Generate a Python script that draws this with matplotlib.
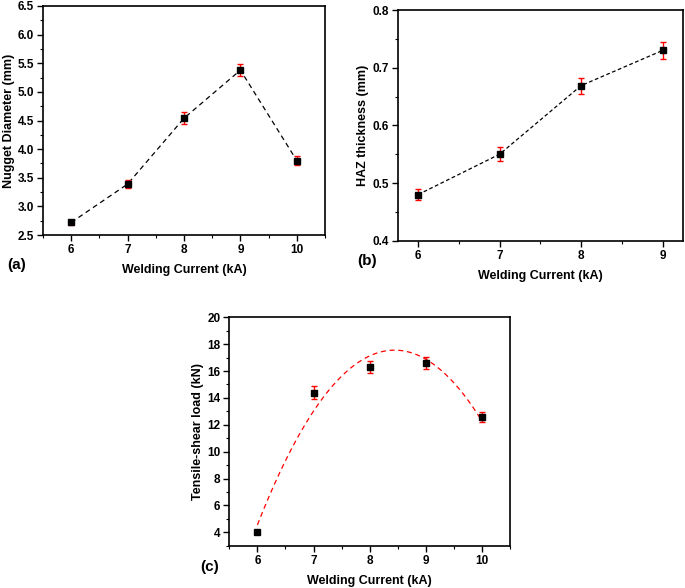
import matplotlib.pyplot as plt
import numpy as np
from matplotlib.ticker import MultipleLocator

plt.rcParams['font.family'] = ['Liberation Sans', 'DejaVu Sans']
plt.rcParams['font.weight'] = 'bold'

# (a) nugget diameter
current_a = [6, 7, 8, 9, 10]
nugget = [2.72, 3.39, 4.54, 5.38, 3.80]
nugget_err = [0.045, 0.07, 0.10, 0.105, 0.08]

# (b) HAZ thickness
current_b = [6, 7, 8, 9]
haz = [0.48, 0.55, 0.669, 0.73]
haz_err = [0.010, 0.012, 0.014, 0.015]

# (c) tensile-shear load
current_c = [6, 7, 8, 9, 10]
load = [4.0, 14.4, 16.3, 16.6, 12.55]
load_err = [0.1, 0.45, 0.45, 0.48, 0.37]

fig = plt.figure(figsize=(6.85, 5.88), dpi=100)


def style(ax, xlim, ylim, xmaj, xmin, ymaj, ymin, ylabel, fmt):
    ax.set_xlim(xlim)
    ax.set_ylim(ylim)
    ax.xaxis.set_major_locator(MultipleLocator(xmaj))
    ax.xaxis.set_minor_locator(MultipleLocator(xmin))
    ax.yaxis.set_major_locator(MultipleLocator(ymaj))
    ax.yaxis.set_minor_locator(MultipleLocator(ymin))
    ax.yaxis.set_major_formatter(plt.FormatStrFormatter(fmt))
    ax.tick_params(which='major', length=4, width=1, labelsize=8.5, pad=2.5)
    ax.tick_params(which='minor', length=2.5, width=0.8)
    for s in ax.spines.values():
        s.set_linewidth(1.2)
    ax.set_xlabel('Welding Current (kA)', fontsize=9, fontweight='bold', labelpad=6)
    ax.set_ylabel(ylabel, fontsize=9, fontweight='bold', labelpad=2)
    for lb in ax.get_xticklabels() + ax.get_yticklabels():
        lb.set_fontweight('bold')


def points(ax, x, y, e):
    ax.errorbar(x, y, yerr=e, fmt='none', ecolor='red', elinewidth=1,
                capsize=2.5, capthick=1, zorder=3)
    ax.plot(x, y, 's', color='black', markersize=4.5, zorder=4)


ax1 = fig.add_axes([0.0628, 0.6003, 0.4117, 0.3895])
ax1.plot(current_a, nugget, '--', color='black', lw=0.9, dashes=(4, 3))
points(ax1, current_a, nugget, nugget_err)
style(ax1, (5.5, 10.5), (2.5, 6.5), 1, 0.5, 0.5, 0.25, 'Nugget Diameter (mm)', '%.1f')

ax2 = fig.add_axes([0.5806, 0.5906, 0.4165, 0.3923])
ax2.plot(current_b, haz, '--', color='black', lw=0.9, dashes=(3, 2))
points(ax2, current_b, haz, haz_err)
style(ax2, (5.75, 9.25), (0.4, 0.8), 1, 0.5, 0.1, 0.05, 'HAZ thickness (mm)', '%.1f')

ax3 = fig.add_axes([0.3348, 0.0719, 0.4098, 0.3885])
coef = np.polyfit(current_c, load, 2)
xs = np.linspace(min(current_c), max(current_c), 200)
ax3.plot(xs, np.polyval(coef, xs), '--', color='red', lw=0.9, dashes=(4, 3))
points(ax3, current_c, load, load_err)
style(ax3, (5.5, 10.5), (3, 20), 1, 0.5, 2, 1, 'Tensile-shear load (kN)', '%d')

fig.text(7 / 685, 1 - 265 / 588, '(a)', fontsize=11, fontweight='bold', va='center')
fig.text(357 / 685, 1 - 261 / 588, '(b)', fontsize=11, fontweight='bold', va='center')
fig.text(200 / 685, 1 - 567 / 588, '(c)', fontsize=11, fontweight='bold', va='center')

fig.savefig('out.png', dpi=100)
